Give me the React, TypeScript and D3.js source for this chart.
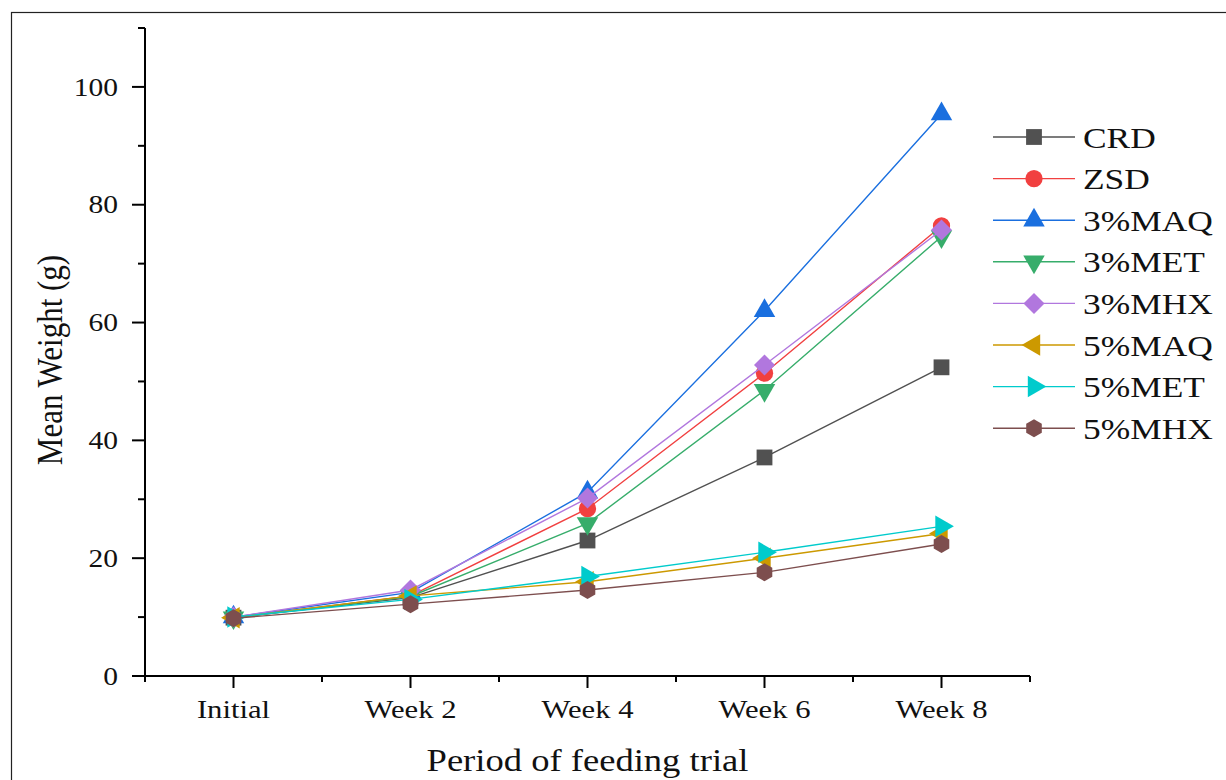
import { useEffect, useRef } from "react";
import * as d3 from "d3";

const periods = ["Initial", "Week 2", "Week 4", "Week 6", "Week 8"];
const seriesNames = ["CRD", "ZSD", "3%MAQ", "3%MET", "3%MHX", "5%MAQ", "5%MET", "5%MHX"];
const crd = [9.9, 13.3, 23.0, 37.1, 52.4];
const zsd = [9.9, 13.6, 28.4, 51.4, 76.4];
const maq3 = [10.0, 14.2, 31.2, 62.0, 95.4];
const met3 = [9.9, 13.5, 25.9, 48.5, 74.6];
const mhx3 = [10.0, 14.6, 30.2, 52.8, 75.7];
const maq5 = [9.9, 13.6, 16.0, 20.0, 24.2];
const met5 = [10.0, 13.0, 16.9, 21.0, 25.4];
const mhx5 = [9.8, 12.2, 14.6, 17.6, 22.4];
const seriesValues = [crd, zsd, maq3, met3, mhx3, maq5, met5, mhx5];
const colors = ["#515151", "#F14040", "#1A6FDF", "#37AD6B", "#B177DE", "#CC9900", "#00CBCC", "#7D4E4E"];
const markers = ["square", "circle", "up", "down", "diamond", "left", "right", "hexagon"];
const yTicks = [0, 20, 40, 60, 80, 100];

const FONT = "'Liberation Serif', 'Times New Roman', serif";
const STRETCH = 1.18;

function polygon(pts: [number, number][]) {
  return (d3.line()(pts) || "") + "Z";
}

function markerPath(kind: string) {
  if (kind === "hexagon") {
    const r = 9;
    return polygon(d3.range(6).map((i) => {
      const a = (Math.PI / 3) * i + Math.PI / 6;
      return [Math.cos(a) * r, Math.sin(a) * r] as [number, number];
    }));
  }
  if (kind === "diamond") {
    const r = 10.5;
    return polygon([[0, -r], [r, 0], [0, r], [-r, 0]]);
  }
  if (kind === "square") return d3.symbol().type(d3.symbolSquare).size(250)() || "";
  if (kind === "circle") return d3.symbol().type(d3.symbolCircle).size(235)() || "";
  return d3.symbol().type(d3.symbolTriangle).size(200)() || "";
}

function markerRotate(kind: string) {
  if (kind === "down") return 180;
  if (kind === "left") return -90;
  if (kind === "right") return 90;
  return 0;
}

export default function App() {
  const ref = useRef<SVGSVGElement | null>(null);

  useEffect(() => {
    if (!ref.current) return;
    const svg = d3.select(ref.current);
    svg.selectAll("*").remove();

    const left = 145, right = 1030, top = 28, bottom = 676;
    const x = d3.scaleLinear().domain([-0.5, 4.5]).range([left, right]);
    const y = d3.scaleLinear().domain([0, 110]).range([bottom, top]);

    // outer frame
    svg.append("rect")
      .attr("x", 11.5).attr("y", 12.5)
      .attr("width", 1240).attr("height", 800)
      .attr("fill", "white").attr("stroke", "#222").attr("stroke-width", 1.2);

    const axisColor = "#000";
    const label = (g: any, tx: number, ty: number, size: number, anchor: string, txt: string, dy = "0") =>
      g.append("text")
        .attr("transform", `translate(${tx},${ty}) scale(${STRETCH},1)`)
        .attr("dy", dy)
        .attr("text-anchor", anchor)
        .attr("font-family", FONT).attr("font-size", size).attr("fill", "#111")
        .text(txt);

    // y axis
    const yAxis = svg.append("g");
    yAxis.append("line")
      .attr("x1", left).attr("x2", left).attr("y1", y(110)).attr("y2", y(0))
      .attr("stroke", axisColor).attr("stroke-width", 2);
    d3.range(10, 111, 20).forEach((v) => {
      yAxis.append("line")
        .attr("x1", left - 7).attr("x2", left).attr("y1", y(v)).attr("y2", y(v))
        .attr("stroke", axisColor).attr("stroke-width", 2);
    });
    yTicks.forEach((v) => {
      yAxis.append("line")
        .attr("x1", left - 13).attr("x2", left).attr("y1", y(v)).attr("y2", y(v))
        .attr("stroke", axisColor).attr("stroke-width", 2);
      label(yAxis, left - 27, y(v), 25, "end", String(v), "0.35em");
    });

    // x axis
    const xAxis = svg.append("g");
    xAxis.append("line")
      .attr("x1", left - 1).attr("x2", right).attr("y1", bottom).attr("y2", bottom)
      .attr("stroke", axisColor).attr("stroke-width", 2);
    d3.range(-0.5, 4.6, 1).forEach((v) => {
      xAxis.append("line")
        .attr("x1", x(v)).attr("x2", x(v)).attr("y1", bottom).attr("y2", bottom + 6)
        .attr("stroke", axisColor).attr("stroke-width", 2);
    });
    periods.forEach((p, i) => {
      xAxis.append("line")
        .attr("x1", x(i)).attr("x2", x(i)).attr("y1", bottom).attr("y2", bottom + 12)
        .attr("stroke", axisColor).attr("stroke-width", 2);
      label(xAxis, x(i), 718, 26, "middle", p);
    });

    // axis titles
    label(svg, x(2), 771, 31, "middle", "Period of feeding trial");
    svg.append("text")
      .attr("transform", `translate(62, ${(top + bottom) / 2 + 8}) scale(${STRETCH},1) rotate(-90)`)
      .attr("text-anchor", "middle")
      .attr("font-family", FONT).attr("font-size", 31).attr("fill", "#111")
      .text("Mean Weight (g)");

    // series
    const line = d3.line<number>()
      .x((_, i) => x(i))
      .y((d) => y(d));

    seriesValues.forEach((vals, s) => {
      const g = svg.append("g");
      g.append("path")
        .attr("d", line(vals) || "")
        .attr("fill", "none")
        .attr("stroke", colors[s])
        .attr("stroke-width", 1.4);
      g.selectAll("path.m")
        .data(vals)
        .join("path")
        .attr("class", "m")
        .attr("d", markerPath(markers[s]))
        .attr("transform", (d, i) => `translate(${x(i)},${y(d)}) rotate(${markerRotate(markers[s])})`)
        .attr("fill", colors[s]);
    });

    // legend
    const legend = svg.append("g");
    seriesNames.forEach((name, s) => {
      const ly = 137 + s * 41.6;
      legend.append("line")
        .attr("x1", 993).attr("x2", 1075).attr("y1", ly).attr("y2", ly)
        .attr("stroke", colors[s]).attr("stroke-width", 1.4);
      legend.append("path")
        .attr("d", markerPath(markers[s]))
        .attr("transform", `translate(1034,${ly}) rotate(${markerRotate(markers[s])})`)
        .attr("fill", colors[s]);
      label(legend, 1083, ly, 30, "start", name, "0.35em");
    });
  }, []);

  return (
    <svg
      ref={ref}
      width={1226}
      height={780}
      style={{ position: "fixed", left: 0, top: 0, background: "white" }}
    />
  );
}
